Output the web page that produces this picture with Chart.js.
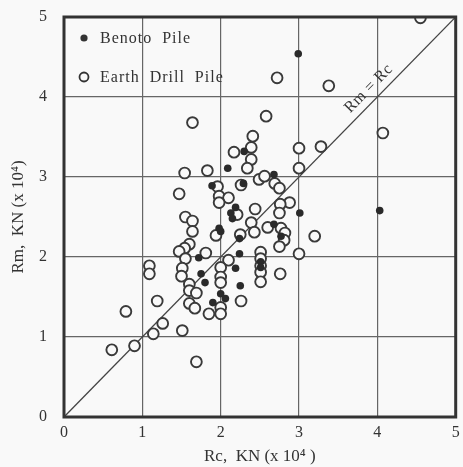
<!DOCTYPE html>
<html>
<head>
<meta charset="utf-8">
<title>Rm vs Rc</title>
<script src="https://cdn.jsdelivr.net/npm/chart.js@4.4.0/dist/chart.umd.min.js"></script>
<style>
  body { margin: 0; background: #f9f9f9; }
  #wrap { width: 463px; height: 467px; }
</style>
</head>
<body>
<div id="wrap"><canvas id="pileChart" width="463" height="467"></canvas></div>
<script>
// values (x 10^4 KN)
const earthRc = [4.55, 2.72, 3.38, 1.64, 2.58, 4.07, 2.41, 2.39, 2.17, 3.00, 3.28, 2.39, 2.34, 3.00, 1.83, 1.54,
  2.49, 2.56, 2.26, 1.96, 2.69, 2.75, 1.47, 1.98, 2.10, 1.98, 2.88, 2.76, 2.44, 2.21, 2.75, 1.55,
  1.64, 2.39, 1.64, 2.43, 2.60, 2.77, 1.94, 2.25, 2.82, 3.20, 2.81, 2.75, 1.60, 1.54, 1.47, 1.81,
  1.55, 2.51, 3.00, 2.51, 2.10, 1.09, 1.09, 1.51, 2.00, 2.51, 2.51, 2.76, 1.50, 2.00, 2.51, 1.60,
  2.00, 1.60, 1.69, 1.19, 1.60, 2.26, 1.67, 2.00, 0.79, 1.85, 2.00, 1.26, 1.14, 1.51, 0.61, 0.90, 1.69];
const earthRm = [4.99, 4.24, 4.14, 3.68, 3.76, 3.55, 3.51, 3.37, 3.31, 3.36, 3.38, 3.22, 3.11, 3.11, 3.08, 3.05,
  2.97, 3.01, 2.90, 2.88, 2.92, 2.86, 2.79, 2.76, 2.74, 2.68, 2.68, 2.66, 2.60, 2.53, 2.55, 2.50,
  2.45, 2.43, 2.32, 2.31, 2.37, 2.36, 2.27, 2.28, 2.30, 2.26, 2.21, 2.13, 2.16, 2.11, 2.07, 2.05,
  1.98, 2.06, 2.04, 1.98, 1.96, 1.89, 1.79, 1.86, 1.87, 1.89, 1.81, 1.79, 1.76, 1.75, 1.69, 1.66,
  1.68, 1.58, 1.55, 1.45, 1.42, 1.45, 1.36, 1.37, 1.32, 1.29, 1.29, 1.17, 1.04, 1.08, 0.84, 0.89, 0.69];

const benotoRc = [2.99, 4.03, 3.01, 2.30, 2.09, 1.89, 2.29, 2.68, 2.19, 2.13, 2.15, 1.98, 2.00, 2.68,
  2.77, 2.24, 1.72, 2.24, 2.51, 2.51, 2.19, 1.75, 1.80, 2.25, 1.90, 2.00, 2.06];
const benotoRm = [4.54, 2.58, 2.55, 3.32, 3.11, 2.89, 2.92, 3.03, 2.62, 2.55, 2.48, 2.36, 2.32, 2.41,
  2.26, 2.23, 1.99, 2.04, 1.94, 1.87, 1.86, 1.79, 1.68, 1.64, 1.43, 1.54, 1.48];

const axisTicks = [0, 1, 2, 3, 4, 5];
const lineEnds = [0, 5];

const ink = '#333333';
const paper = '#f9f9f9';
const serif = '"Liberation Serif", "DejaVu Serif", serif';

function toPoints(xs, ys) {
  return xs.map((x, i) => ({ x: x, y: ys[i] }));
}

// frame, legend and the Rm = Rc label
const extras = {
  id: 'extras',
  afterDraw(chart) {
    const ctx = chart.ctx;
    const a = chart.chartArea;
    const xs = chart.scales.x;
    const ys = chart.scales.y;
    ctx.save();
    ctx.strokeStyle = ink;
    ctx.lineWidth = 3;
    ctx.strokeRect(a.left, a.top, a.right - a.left, a.bottom - a.top);

    // legend
    ctx.font = '16px ' + serif;
    ctx.letterSpacing = '1px';
    ctx.fillStyle = ink;
    ctx.textBaseline = 'middle';
    ctx.beginPath();
    ctx.arc(a.left + 20, a.top + 21, 3.6, 0, Math.PI * 2);
    ctx.fill();
    ctx.fillText('Benoto  Pile', a.left + 36, a.top + 22);
    ctx.beginPath();
    ctx.arc(a.left + 20, a.top + 60, 4.5, 0, Math.PI * 2);
    ctx.lineWidth = 1.8;
    ctx.stroke();
    ctx.fillText('Earth  Drill  Pile', a.left + 36, a.top + 61);

    // diagonal label
    const px = xs.getPixelForValue(4.0);
    const py = ys.getPixelForValue(4.0);
    const ang = Math.atan2(ys.getPixelForValue(5) - ys.getPixelForValue(0),
                           xs.getPixelForValue(5) - xs.getPixelForValue(0));
    ctx.translate(px, py);
    ctx.rotate(ang);
    ctx.textAlign = 'center';
    ctx.textBaseline = 'bottom';
    ctx.font = '16px ' + serif;
    ctx.letterSpacing = '0.5px';
    ctx.fillText('Rm = Rc', 0, -4);
    ctx.restore();
  }
};

const ctx = document.getElementById('pileChart').getContext('2d');
new Chart(ctx, {
  type: 'scatter',
  data: {
    datasets: [
      {
        label: 'Benoto Pile',
        data: toPoints(benotoRc, benotoRm),
        backgroundColor: '#2a2a2a',
        borderWidth: 0,
        pointRadius: 3.8,
        order: 0
      },
      {
        label: 'Earth Drill Pile',
        data: toPoints(earthRc, earthRm),
        backgroundColor: paper,
        borderColor: '#3a3a3a',
        borderWidth: 1.9,
        pointRadius: 5.4,
        order: 1
      },
      {
        type: 'line',
        label: 'Rm = Rc',
        data: toPoints(lineEnds, lineEnds),
        borderColor: '#444',
        borderWidth: 1.3,
        pointRadius: 0,
        order: 2
      }
    ]
  },
  options: {
    responsive: false,
    animation: false,
    layout: { padding: { top: 17, right: 1 } },
    plugins: {
      legend: { display: false },
      tooltip: { enabled: false }
    },
    scales: {
      x: {
        type: 'linear',
        min: 0,
        max: 5,
        afterBuildTicks(scale) { scale.ticks = axisTicks.map(v => ({ value: v })); },
        afterFit(scale) {
          scale.height = 50;
          scale.paddingLeft = 0;
          scale.paddingRight = 0;
        },
        ticks: { color: ink, font: { family: serif, size: 16 }, padding: 6 },
        grid: {
          drawTicks: false,
          color: c => (c.tick && (c.tick.value === 0 || c.tick.value === 5)) ? 'rgba(0,0,0,0)' : '#666',
          lineWidth: 1.2
        },
        border: { display: false },
        title: {
          display: true,
          text: 'Rc,  KN (x 10⁴ )',
          color: ink,
          font: { family: serif, size: 17, lineHeight: 1.2 },
          padding: { top: 0, bottom: 0 }
        }
      },
      y: {
        type: 'linear',
        min: 0,
        max: 5,
        afterBuildTicks(scale) { scale.ticks = axisTicks.map(v => ({ value: v })); },
        afterFit(scale) {
          scale.width = 64;
          scale.paddingTop = 0;
          scale.paddingBottom = 0;
        },
        ticks: { color: ink, font: { family: serif, size: 16 }, padding: 17 },
        grid: {
          drawTicks: false,
          color: c => (c.tick && (c.tick.value === 0 || c.tick.value === 5)) ? 'rgba(0,0,0,0)' : '#666',
          lineWidth: 1.2
        },
        border: { display: false },
        title: {
          display: true,
          text: 'Rm,  KN (x 10⁴)',
          color: ink,
          font: { family: serif, size: 17, lineHeight: 1.2 },
          padding: { top: 8, bottom: 0 }
        }
      }
    }
  },
  plugins: [extras]
});
</script>
</body>
</html>
